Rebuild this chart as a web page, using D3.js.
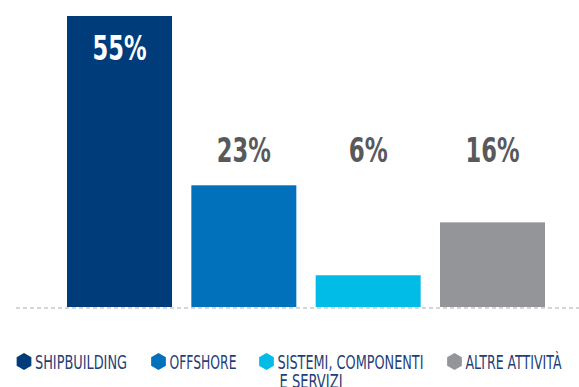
<!DOCTYPE html>
<html>
<head>
<meta charset="utf-8">
<script src="https://cdn.jsdelivr.net/npm/d3@7"></script>
<style>
  body { margin: 0; background: #fff; }
  svg text { font-family: "Liberation Sans Narrow", "DejaVu Sans Condensed", sans-serif; }
</style>
</head>
<body>
<div id="chart"></div>
<script>
// chart data
const categories = ["SHIPBUILDING", "OFFSHORE", "SISTEMI, COMPONENTI", "ALTRE ATTIVITÀ"];
const legendLines = [["SHIPBUILDING"], ["OFFSHORE"], ["SISTEMI, COMPONENTI", "E SERVIZI"], ["ALTRE ATTIVITÀ"]];
const values = [55, 23, 6, 16];
const valueLabels = ["55%", "23%", "6%", "16%"];
const colors = ["#003c7a", "#0071ba", "#00bce6", "#939598"];

class ShareBarChart {

    constructor(parentElement) {
        this.parentElement = parentElement;
        this.initVis();
    }

    initVis() {
        let vis = this;

        vis.width = 579;
        vis.height = 387;

        vis.svg = d3.select("#" + vis.parentElement).append("svg")
            .attr("width", vis.width)
            .attr("height", vis.height);

        vis.baseline = 307;

        vis.x = d3.scaleBand()
            .domain(categories)
            .range([67, 545])
            .paddingInner(0.1555)
            .paddingOuter(0);

        vis.y = d3.scaleLinear()
            .domain([0, 55])
            .range([vis.baseline, 16]);

        // the condensed face is squeezed to the widths of the original
        vis.labelWidth = t => t.length === 2 ? 39 : 54;
        vis.legendWidth = {"SHIPBUILDING": 92, "OFFSHORE": 67, "SISTEMI, COMPONENTI": 146, "E SERVIZI": 63, "ALTRE ATTIVITÀ": 96};

        vis.updateVis();
    }

    updateVis() {
        let vis = this;

        vis.svg.selectAll("rect.bar")
            .data(values)
            .join("rect")
            .attr("class", "bar")
            .attr("x", (d, i) => vis.x(categories[i]))
            .attr("y", d => vis.y(d))
            .attr("width", vis.x.bandwidth())
            .attr("height", d => vis.baseline - vis.y(d))
            .attr("fill", (d, i) => colors[i]);

        // dashed baseline
        vis.svg.append("line")
            .attr("x1", 16)
            .attr("x2", vis.width)
            .attr("y1", vis.baseline + 1)
            .attr("y2", vis.baseline + 1)
            .attr("stroke", "#c8c8c8")
            .attr("stroke-width", 1.5)
            .attr("stroke-dasharray", "4,3");

        // value labels: first inside bar, rest at a common height
        vis.svg.selectAll("text.value-label")
            .data(valueLabels)
            .join("text")
            .attr("class", "value-label")
            .attr("x", (d, i) => vis.x(categories[i]) + vis.x.bandwidth() / 2 - vis.labelWidth(d) / 2)
            .attr("y", (d, i) => i === 0 ? 60 : 162)
            .attr("textLength", d => vis.labelWidth(d))
            .attr("lengthAdjust", "spacingAndGlyphs")
            .attr("fill", (d, i) => i === 0 ? "#ffffff" : "#58595b")
            .style("font-size", "34px")
            .style("font-weight", "bold")
            .text(d => d);

        // legend
        const legendX = [24, 158.5, 266.5, 454.5];
        const hex = r => d3.range(6).map(k => {
            const a = Math.PI / 3 * k - Math.PI / 2;
            return [r * Math.cos(a), r * Math.sin(a)];
        });

        let legend = vis.svg.selectAll("g.legend-item")
            .data(legendLines)
            .join("g")
            .attr("class", "legend-item")
            .attr("transform", (d, i) => `translate(${legendX[i]}, 361.5)`);

        legend.append("polygon")
            .attr("points", hex(8.5).map(p => p.join(",")).join(" "))
            .attr("fill", (d, i) => colors[i]);

        legend.selectAll("text")
            .data(d => d)
            .join("text")
            .attr("x", (d, i) => i === 0 ? 11 : 13)
            .attr("y", (d, i) => 7 + i * 19)
            .attr("textLength", d => vis.legendWidth[d])
            .attr("lengthAdjust", "spacingAndGlyphs")
            .attr("fill", "#1f3f78")
            .style("font-size", "19px")
            .text(d => d);
    }
}

new ShareBarChart("chart");
</script>
</body>
</html>
